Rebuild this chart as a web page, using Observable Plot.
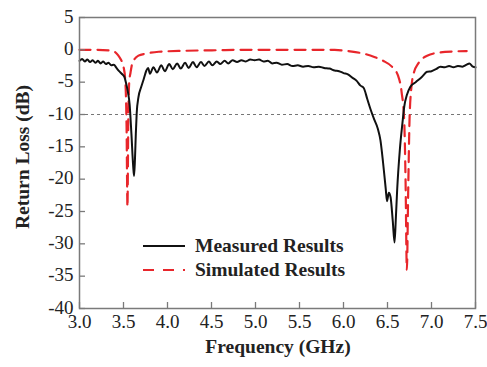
<!DOCTYPE html>
<html>
<head>
<meta charset="utf-8">
<script src="https://cdn.jsdelivr.net/npm/d3@7"></script>
<script src="https://cdn.jsdelivr.net/npm/@observablehq/plot@0.6"></script>
<style>
  html, body { margin: 0; padding: 0; background: #fff; }
  #chart { width: 487px; height: 367px; }
  svg, svg text { font-family: "Liberation Serif", "Times New Roman", serif !important; }
</style>
</head>
<body>
<div id="chart"></div>
<script>
// Measured results: frequency (GHz) and return loss (dB)
const measuredFreq = [3.00,3.03,3.06,3.09,3.12,3.15,3.18,3.21,3.24,3.27,3.30,3.33,3.36,3.39,3.42,3.45,3.48,3.51,3.53,3.55,3.57,3.59,3.61,3.62,3.63,3.64,3.65,3.67,3.70,3.73,3.76,3.78,3.80,3.84,3.88,3.93,3.97,4.02,4.06,4.11,4.15,4.20,4.24,4.29,4.33,4.38,4.42,4.47,4.51,4.56,4.60,4.65,4.69,4.74,4.79,4.84,4.89,4.94,4.99,5.04,5.09,5.14,5.19,5.24,5.30,5.36,5.42,5.48,5.54,5.60,5.66,5.72,5.78,5.84,5.90,5.95,6.00,6.05,6.10,6.15,6.19,6.23,6.27,6.31,6.35,6.39,6.42,6.45,6.48,6.495,6.515,6.535,6.56,6.58,6.595,6.61,6.64,6.67,6.69,6.72,6.76,6.82,6.89,6.95,7.00,7.05,7.10,7.15,7.20,7.25,7.30,7.35,7.40,7.43,7.47,7.50];
const measuredLoss = [-1.7,-1.4,-1.8,-1.5,-1.9,-1.6,-2.0,-1.7,-2.1,-1.8,-2.2,-2.0,-2.4,-2.3,-2.8,-3.3,-3.7,-4.2,-5.2,-6.5,-8.5,-13,-18,-19.5,-17,-13,-9.8,-7.3,-5.8,-4.5,-3.2,-2.8,-3.7,-2.7,-3.5,-2.4,-3.3,-2.2,-3.0,-2.1,-2.9,-2.0,-2.8,-1.9,-2.7,-1.9,-2.5,-1.8,-2.4,-1.8,-2.2,-1.7,-2.1,-1.6,-1.9,-1.6,-1.8,-1.5,-1.6,-1.5,-1.8,-1.7,-2.1,-2.0,-2.3,-2.2,-2.5,-2.4,-2.6,-2.5,-2.7,-2.6,-2.8,-2.9,-3.2,-3.3,-3.6,-3.8,-4.3,-4.8,-5.5,-5.9,-7.6,-9.3,-10.8,-12.2,-14,-17.5,-21.5,-23.4,-22.1,-22.8,-26.5,-29.8,-26,-21.6,-15.5,-11.3,-8.8,-7.0,-5.7,-5.0,-4.2,-3.4,-3.3,-3.0,-2.6,-2.7,-2.5,-2.7,-2.5,-2.6,-2.3,-2.1,-2.6,-2.7];

// Simulated results
const simulatedFreq = [3.00,3.20,3.35,3.40,3.44,3.47,3.50,3.52,3.535,3.545,3.555,3.565,3.58,3.60,3.67,3.75,3.90,4.20,4.60,4.80,5.00,5.50,5.90,6.05,6.20,6.35,6.45,6.55,6.62,6.66,6.69,6.705,6.72,6.735,6.75,6.77,6.80,6.85,6.95,7.10,7.25,7.40];
const simulatedLoss = [0,0,-0.1,-0.3,-0.85,-1.5,-2.6,-4.7,-12,-24.3,-10,-5,-3.5,-2.1,-0.9,-0.6,-0.3,-0.15,-0.05,0,0,0,0,-0.2,-0.5,-1.1,-1.7,-2.6,-4,-6.5,-11,-20,-34,-22,-11,-6,-3.5,-2.1,-0.9,-0.4,-0.25,-0.2];

const xTicks = [3.0,3.5,4.0,4.5,5.0,5.5,6.0,6.5,7.0,7.5];
const yTicks = [5,0,-5,-10,-15,-20,-25,-30,-35,-40];
const seriesNames = ["Measured Results", "Simulated Results"];
const xTitle = "Frequency (GHz)";
const yTitle = "Return Loss (dB)";
const threshold = [-10];

const measured = measuredFreq.map((f, i) => ({f, v: measuredLoss[i]}));
const simulated = simulatedFreq.map((f, i) => ({f, v: simulatedLoss[i]}));

const RED = "#e8262b";
const AXIS = "#7a7a7a";

const chart = Plot.plot({
  width: 487,
  height: 367,
  marginLeft: 79,
  marginRight: 12,
  marginTop: 17,
  marginBottom: 59,
  style: {background: "#fff", overflow: "visible"},
  x: {domain: [3, 7.5]},
  y: {domain: [-40, 5]},
  marks: [
    Plot.ruleY(threshold, {stroke: "#666", strokeWidth: 0.9, strokeDasharray: "3,3"}),
    Plot.line(simulated, {x: "f", y: "v", stroke: RED, strokeWidth: 2.2, strokeDasharray: "11,7", curve: "monotone-x"}),
    Plot.line(measured, {x: "f", y: "v", stroke: "#111", strokeWidth: 2, curve: "monotone-x"}),
    Plot.frame({stroke: AXIS, strokeWidth: 1.5}),
    // inward ticks
    Plot.axisX({ticks: xTicks, tickSize: 6, dy: -6, text: null, label: null, stroke: AXIS, strokeWidth: 1.3}),
    Plot.axisY({ticks: yTicks, tickSize: 6, dx: 6, text: null, label: null, stroke: AXIS, strokeWidth: 1.3}),
    // tick labels
    Plot.axisX({ticks: xTicks, tickSize: 0, tickPadding: 6, tickFormat: d => d.toFixed(1), label: null, fontSize: 19, fill: "#222"}),
    Plot.axisY({ticks: yTicks, tickSize: 0, tickPadding: 6, dy: -1, tickFormat: d => String(d), label: null, fontSize: 19, fill: "#222"})
  ]
});

document.getElementById("chart").appendChild(chart);

const svg = d3.select(chart);
// axis titles
svg.append("text")
  .attr("x", 278).attr("y", 353)
  .attr("text-anchor", "middle")
  .attr("font-size", 19.5).attr("font-weight", "bold").attr("fill", "#222")
  .text(xTitle);
svg.append("text")
  .attr("transform", "translate(29,157) rotate(-90)")
  .attr("text-anchor", "middle")
  .attr("font-size", 19.5).attr("font-weight", "bold").attr("fill", "#222")
  .text(yTitle);

// legend
const legend = svg.append("g");
const rows = [
  {name: seriesNames[0], stroke: "#111", dash: null, y: 246},
  {name: seriesNames[1], stroke: RED, dash: "11,9", y: 270}
];
rows.forEach(r => {
  legend.append("line")
    .attr("x1", 143).attr("x2", 185).attr("y1", r.y).attr("y2", r.y)
    .attr("stroke", r.stroke).attr("stroke-width", 2.2)
    .attr("stroke-dasharray", r.dash);
  legend.append("text")
    .attr("x", 195).attr("y", r.y + 6)
    .attr("text-anchor", "start")
    .attr("font-size", 19.5).attr("font-weight", "bold").attr("fill", "#222")
    .text(r.name);
});
</script>
</body>
</html>
